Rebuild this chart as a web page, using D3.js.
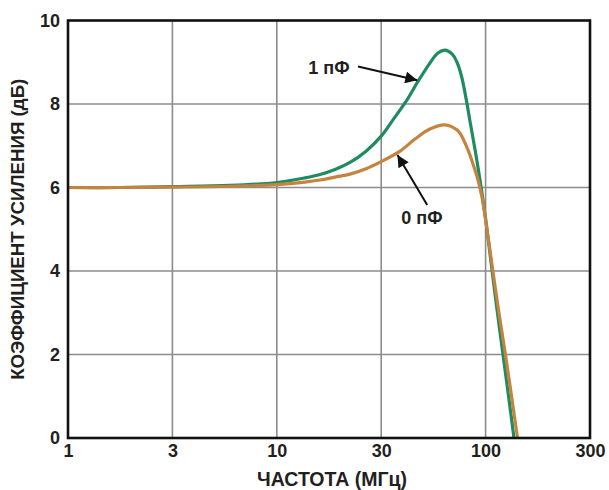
<!DOCTYPE html>
<html><head><meta charset="utf-8">
<script src="https://cdn.jsdelivr.net/npm/d3@7"></script>
<style>
body{margin:0;background:#fff}
text{font-family:"Liberation Sans",Arial,sans-serif;font-weight:bold;fill:#231f20}
</style>
</head><body><svg id="c" width="609" height="490"></svg>
<script>
// ---- data ----
const xTicks = [1, 3, 10, 30, 100, 300];
const yTicks = [0, 2, 4, 6, 8, 10];
const xTitle = "ЧАСТОТА (МГц)";
const yTitle = "КОЭФФИЦИЕНТ УСИЛЕНИЯ (дБ)";
const seriesNames = ["1 пФ", "0 пФ"];

const freq1pF = [1, 1.73, 3, 5.83, 10, 13.45, 15.76, 18.45, 21.6, 25.57, 30, 34.37, 39.93, 45.86, 52.6, 57.7, 62.7, 67.9, 71.9, 75.7, 80.4, 84.0, 88.6, 93.75, 100, 106.4, 112.7, 119.8, 127.1, 134.8];
const gain1pF = [6.00, 6.00, 6.02, 6.05, 6.12, 6.23, 6.31, 6.43, 6.60, 6.87, 7.23, 7.62, 8.06, 8.54, 8.98, 9.22, 9.29, 9.2, 9.0, 8.67, 8.05, 7.52, 6.9, 6.18, 5.25, 4.12, 3.09, 2.04, 1.03, 0.0];

const freq0pF = [1, 1.73, 3, 5.83, 10, 13.45, 15.76, 18.45, 21.6, 25.57, 30, 37.3, 44.3, 52.6, 62.7, 71.9, 74.4, 81.6, 87.5, 91.6, 95.9, 100.4, 107.5, 114.5, 123.3, 131.3, 139.9];
const gain0pF = [6.00, 6.00, 6.01, 6.03, 6.07, 6.13, 6.18, 6.25, 6.32, 6.45, 6.62, 6.87, 7.16, 7.40, 7.50, 7.38, 7.3, 6.9, 6.49, 6.18, 5.77, 5.17, 4.07, 3.07, 1.99, 1.01, 0.0];

// annotation anchors in data space: [textF, textG, tailF, tailG, tipF, tipG]
const note1pF = [17.3, 8.73, 23.5, 8.9, 45.5, 8.57];
const note0pF = [48.0, 5.13, 51.0, 5.58, 36.2, 6.78];

// ---- layout ----
const L = 68, R = 590, T = 20.5, B = 438;
const svg = d3.select("#c");

const x = d3.scaleLog()
  .domain(xTicks)
  .range(xTicks.map((d, i) => L + i * (R - L) / (xTicks.length - 1)));
const y = d3.scaleLinear().domain([0, 10]).range([B, T]);

// grid
const grid = svg.append("g").attr("stroke", "#8c8c8c").attr("stroke-width", 1.6);
grid.selectAll("line.v").data(xTicks.slice(1, -1)).join("line")
  .attr("x1", d => x(d)).attr("x2", d => x(d)).attr("y1", T).attr("y2", B);
grid.selectAll("line.h").data(yTicks.slice(1, -1)).join("line")
  .attr("y1", d => y(d)).attr("y2", d => y(d)).attr("x1", L).attr("x2", R);

// clip
svg.append("clipPath").attr("id", "clip").append("rect")
  .attr("x", L).attr("y", T).attr("width", R - L).attr("height", B - T);

const line = d3.line().x(d => x(d[0])).y(d => y(d[1])).curve(d3.curveCatmullRom.alpha(0.5));
const s1 = freq1pF.map((f, i) => [f, gain1pF[i]]);
const s0 = freq0pF.map((f, i) => [f, gain0pF[i]]);

svg.append("path").attr("d", line(s1)).attr("fill", "none")
  .attr("stroke", "#1e8c5e").attr("stroke-width", 3.2).attr("clip-path", "url(#clip)");
svg.append("path").attr("d", line(s0)).attr("fill", "none")
  .attr("stroke", "#c4843f").attr("stroke-width", 3.2).attr("clip-path", "url(#clip)");

// frame
svg.append("rect").attr("x", L).attr("y", T).attr("width", R - L).attr("height", B - T)
  .attr("fill", "none").attr("stroke", "#111").attr("stroke-width", 2.6);

// axes
const ay = svg.append("g").attr("transform", `translate(${L},0)`)
  .call(d3.axisLeft(y).tickValues(yTicks).tickSize(0).tickPadding(8));
ay.select(".domain").remove();
ay.selectAll("text").attr("font-size", 18);

const ax = svg.append("g").attr("transform", `translate(0,${B})`)
  .call(d3.axisBottom(x).tickValues(xTicks).tickFormat(d3.format("d")).tickSize(0).tickPadding(6));
ax.select(".domain").remove();
ax.selectAll("text").attr("font-size", 18);
svg.selectAll(".tick text").attr("font-family", null);

// titles
svg.append("text").attr("x", 332).attr("y", 486).attr("text-anchor", "middle")
  .attr("font-size", 19.5).text(xTitle);
svg.append("text").attr("transform", `translate(24,${(T + B) / 2}) rotate(-90)`)
  .attr("text-anchor", "middle").attr("font-size", 18.7).text(yTitle);

// annotations
const defs = svg.append("defs");
defs.append("marker").attr("id", "ah").attr("viewBox", "0 0 10 10")
  .attr("refX", 10).attr("refY", 5).attr("markerWidth", 16).attr("markerHeight", 12)
  .attr("markerUnits", "userSpaceOnUse").attr("orient", "auto")
  .append("path").attr("d", "M0,0 L10,5 L0,10 Z").attr("fill", "#111");

function note(n, label) {
  svg.append("text").attr("x", x(n[0])).attr("y", y(n[1])).attr("text-anchor", "middle")
    .attr("font-size", 18).text(label);
  svg.append("line").attr("x1", x(n[2])).attr("y1", y(n[3])).attr("x2", x(n[4])).attr("y2", y(n[5]))
    .attr("stroke", "#111").attr("stroke-width", 2).attr("marker-end", "url(#ah)");
}
note(note1pF, seriesNames[0]);
note(note0pF, seriesNames[1]);
</script>
</body></html>
